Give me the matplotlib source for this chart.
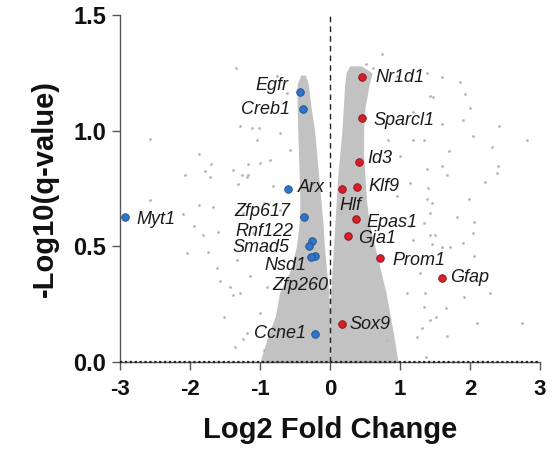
import matplotlib
matplotlib.use("Agg")
import matplotlib.pyplot as plt

# ---------------- data ----------------
# dense cloud of non-highlighted genes, given as its envelope
cloud_left_y = [0.0, 0.1, 0.2, 0.3, 0.4, 0.5, 0.6, 0.7, 0.8, 0.9, 1.0, 1.1, 1.2, 1.24]
cloud_left_lo = [-1.0, -0.9, -0.78, -0.72, -0.56, -0.48, -0.44, -0.43, -0.44, -0.45, -0.46, -0.47, -0.47, -0.42]
cloud_left_hi = [0.0, 0.0, 0.0, -0.02, -0.05, -0.08, -0.1, -0.13, -0.16, -0.19, -0.22, -0.27, -0.31, -0.35]

cloud_right_y = [0.0, 0.1, 0.2, 0.3, 0.4, 0.5, 0.6, 0.7, 0.8, 0.9, 1.0, 1.1, 1.2, 1.25, 1.28]
cloud_right_lo = [0.0, 0.0, 0.0, 0.01, 0.03, 0.05, 0.07, 0.09, 0.11, 0.14, 0.17, 0.19, 0.21, 0.23, 0.28]
cloud_right_hi = [0.97, 0.92, 0.86, 0.8, 0.72, 0.64, 0.56, 0.52, 0.5, 0.48, 0.48, 0.5, 0.56, 0.6, 0.45]

# scattered background genes
bg_fc = [-2.57, -1.87, -1.70, -2.07, -1.79, -1.72, -2.57, -1.87, -1.67, -2.10, -1.95, -1.81,
         -1.60, -2.05, -1.74, -1.62, -1.57, -1.52, -1.36, -1.24, -1.31, -1.17, -1.12, -1.02,
         -1.38, -1.43, -1.34, -1.17, -1.26, -1.38, -1.19, -1.0, -0.81, -0.95, -1.24, -0.71,
         -1.10, -0.86, -1.33, -0.67, -1.14, -0.90, -1.29, -1.0, -0.81, -1.19, -0.95, -0.76,
         -0.62, -1.29, -1.05, -0.71, -0.57, -0.86,
         1.60, 1.85, 1.47, 1.93, 2.0, 1.60, 1.90, 2.41, 2.04, 2.82, 1.34, 1.70, 2.32, 1.38,
         1.60, 1.67, 2.40, 2.38, 2.21, 1.40, 1.38, 1.45, 1.99, 1.81, 2.06, 1.34, 1.43, 1.50,
         2.04, 1.45, 1.60, 1.71, 1.90, 2.06, 2.29, 1.92, 1.36, 1.34, 1.51, 1.66, 2.10, 2.74,
         1.67, 1.37, 1.32,
         0.95, 1.38, 1.43, 1.19, 0.83, 1.19, 1.0, 1.14, 0.95, 1.43, 1.14, 1.19, 0.95, 1.29,
         1.10, 1.43, 0.81, 1.24, 0.74, 0.52, 0.62]
bg_q = [0.964, 0.90, 0.857, 0.81, 0.824, 0.80, 0.70, 0.68, 0.67, 0.64, 0.586, 0.55,
        0.56, 0.47, 0.477, 0.405, 0.35, 0.196, 0.066, 0.10, 0.77, 0.81, 1.01, 1.01,
        0.29, 0.326, 1.27, 0.857, 0.81, 0.83, 0.80, 0.86, 0.76, 0.687, 0.645, 0.658,
        0.557, 0.50, 0.44, 0.44, 0.37, 0.326, 0.297, 0.21, 0.153, 0.124, 0.052, 1.235,
        1.163, 1.02, 0.96, 0.99, 0.918, 0.874,
        1.232, 1.21, 1.146, 1.159, 1.10, 1.03, 1.048, 1.02, 0.978, 0.96, 0.96, 0.91, 0.93, 0.834,
        0.848, 0.81, 0.848, 0.817, 0.776, 0.752, 0.704, 0.687, 0.704, 0.626, 0.605, 0.60, 0.55, 0.55,
        0.557, 0.509, 0.495, 0.495, 0.514, 0.46, 0.297, 0.28, 0.30, 0.237, 0.193, 0.232, 0.167, 0.167,
        0.113, 0.023, 0.146,
        1.235, 1.25, 1.15, 1.08, 0.96, 0.96, 0.89, 0.775, 0.716, 0.645, 0.586, 0.528, 0.47, 0.384,
        0.297, 0.18, 0.095, 0.11, 1.33, 1.29, 1.27]

# highlighted down-regulated genes
down_genes = ["Myt1", "Egfr", "Creb1", "Arx", "Zfp617", "Rnf122", "Smad5", "Nsd1", "Zfp260", "Ccne1"]
down_fc = [-2.93, -0.43, -0.39, -0.60, -0.37, -0.26, -0.30, -0.22, -0.27, -0.21]
down_q = [0.628, 1.167, 1.095, 0.747, 0.625, 0.524, 0.502, 0.459, 0.452, 0.121]

# highlighted up-regulated genes
up_genes = ["Nr1d1", "Sparcl1", "Id3", "Klf9", "Hlf", "Epas1", "Gja1", "Prom1", "Gfap", "Sox9"]
up_fc = [0.46, 0.46, 0.42, 0.39, 0.17, 0.37, 0.26, 0.72, 1.60, 0.17]
up_q = [1.231, 1.055, 0.864, 0.756, 0.747, 0.619, 0.543, 0.449, 0.365, 0.164]

x_ticks = [-3, -2, -1, 0, 1, 2, 3]
y_ticks = [0.0, 0.5, 1.0, 1.5]

# label placement (pixel offsets, alignment) - styling only
label_style = {
    "Myt1": (12, -3, "left"), "Egfr": (-11, 7, "right"), "Creb1": (-13, -1, "right"),
    "Arx": (10, 2, "left"), "Zfp617": (-14, 6, "right"), "Rnf122": (-18, 9, "right"),
    "Smad5": (-20, -2, "right"), "Nsd1": (-8, -10, "right"), "Zfp260": (17, -28, "right"),
    "Ccne1": (-9, 1, "right"), "Nr1d1": (13, 0, "left"), "Sparcl1": (11, -3, "left"),
    "Id3": (8, 4, "left"), "Klf9": (11, 1, "left"), "Hlf": (-2, -16, "left"),
    "Epas1": (11, -4, "left"), "Gja1": (10, -2, "left"), "Prom1": (12, -2, "left"),
    "Gfap": (8, 0, "left"), "Sox9": (8, 0, "left"),
}

# ---------------- plot ----------------
plt.rcParams["font.family"] = ["Liberation Sans", "DejaVu Sans"]
fig = plt.figure(figsize=(5.6, 4.55), dpi=100)
ax = fig.add_axes([120 / 560, 1 - 362 / 455, 420 / 560, 347 / 455])

grey = "#c2c2c2"
ax.fill_betweenx(cloud_left_y, cloud_left_lo, cloud_left_hi, color=grey, lw=0, zorder=1)
ax.fill_betweenx(cloud_right_y, cloud_right_lo, cloud_right_hi, color=grey, lw=0, zorder=1)
ax.scatter(bg_fc, bg_q, s=4, color="#b5b5b5", lw=0, zorder=2)

ax.axvline(0, color="#222222", lw=1.0, ls=(0, (4, 3)), zorder=3)
ax.axhline(0, color="#222222", lw=1.6, ls=(0, (1, 1.2)), zorder=3, clip_on=False)

ax.scatter(down_fc, down_q, s=30, color="#2f74c8", edgecolor="#1f4f8a", lw=0.6, zorder=5, clip_on=False)
ax.scatter(up_fc, up_q, s=30, color="#d81e2a", edgecolor="#8a1018", lw=0.6, zorder=5)

px2pt = 0.72
for g, x, y in list(zip(down_genes, down_fc, down_q)) + list(zip(up_genes, up_fc, up_q)):
    dx, dy, ha = label_style[g]
    ax.annotate(g, (x, y), xytext=(dx * px2pt, dy * px2pt), textcoords="offset points",
                ha=ha, va="center", fontsize=13, fontstyle="italic", color="#1a1a1a", zorder=6)

ax.set_xlim(-3, 3)
ax.set_ylim(0, 1.5)
ax.set_xticks(x_ticks)
ax.set_xticklabels([str(t) for t in x_ticks])
ax.set_yticks(y_ticks)
ax.set_yticklabels([f"{t:.1f}" for t in y_ticks])
for s in ["top", "right"]:
    ax.spines[s].set_visible(False)
ax.spines["left"].set_color("#555555")
ax.spines["bottom"].set_color("#555555")
ax.spines["left"].set_linewidth(1.0)
ax.spines["bottom"].set_linewidth(1.0)
ax.tick_params(axis="both", direction="out", length=6, width=1.0, color="#555555")
ax.tick_params(axis="y", labelsize=17, pad=4)
ax.tick_params(axis="x", labelsize=16, pad=6)
for lab in ax.get_xticklabels() + ax.get_yticklabels():
    lab.set_fontweight("bold")
    lab.set_color("#111111")

ax.set_xlabel("Log2 Fold Change", fontsize=21, fontweight="bold", color="#111111", labelpad=12)
ax.set_ylabel("-Log10(q-value)", fontsize=21, fontweight="bold", color="#111111", labelpad=10)

fig.savefig("out.png", dpi=100)
